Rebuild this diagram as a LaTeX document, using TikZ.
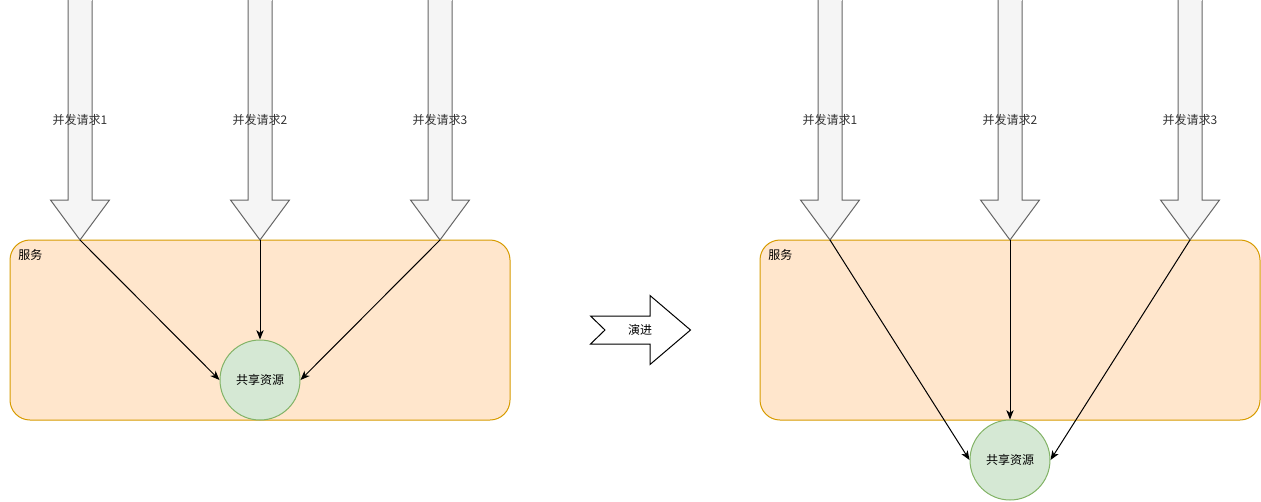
\documentclass[tikz,border=0pt]{standalone}
\usepackage{fontspec}
\newfontfamily\cjk{Noto Sans CJK SC}
\usetikzlibrary{arrows.meta}
\definecolor{svcfill}{HTML}{FFE6CC}
\definecolor{svcdraw}{HTML}{D79B00}
\definecolor{resfill}{HTML}{D5E8D4}
\definecolor{resdraw}{HTML}{82B366}
\definecolor{arrfill}{HTML}{F5F5F5}
\definecolor{arrdraw}{HTML}{666666}
\definecolor{arrtext}{HTML}{333333}
\tikzset{
  svcbox/.style={draw=svcdraw, fill=svcfill, rounded corners=15pt, line width=0.75pt},
  resnode/.style={circle, draw=resdraw, fill=resfill, line width=0.75pt, minimum size=60pt, inner sep=0pt, font=\cjk\fontsize{9}{11}\selectfont},
  bigarrow/.style={draw=arrdraw, fill=arrfill, line join=miter, line width=0.75pt},
  reqlabel/.style={text=arrtext, font=\cjk\fontsize{9}{11}\selectfont, inner sep=1pt},
  conn/.style={draw=black, line width=0.75pt, -{Stealth[length=7pt,width=5.5pt,inset=2pt]}},
  txt/.style={font=\cjk\fontsize{9}{11}\selectfont, inner sep=0pt}
}
\begin{document}
\begin{tikzpicture}[x=0.75pt,y=-0.75pt]
\useasboundingbox (0,0) rectangle (1261,501);
% service boxes
\draw[svcbox] (10,240) rectangle (510,420);
\node[txt, anchor=north west] (svcL) at (18,249) {服务};
\draw[svcbox] (760,240) rectangle (1260,420);
\node[txt, anchor=north west] (svcR) at (768,249) {服务};
% big arrows
\foreach \cx/\n/\name in {80/1/a1,260/2/a2,440/3/a3,830/1/b1,1010/2/b2,1190/3/b3}{
  \draw[bigarrow] (\cx-12,0) -- (\cx-12,200) -- (\cx-29.5,200) -- (\cx,240) -- (\cx+29.5,200) -- (\cx+12,200) -- (\cx+12,0);
  \draw[arrfill, line width=1pt] (\cx-11.5,0.5) -- (\cx+11.5,0.5);
  \node[reqlabel] (l\name) at (\cx,120) {并发请求\n};
  \coordinate (\name) at (\cx,240);
}
% resources
\node[resnode] (resL) at (260,380) {共享资源};
\node[resnode] (resR) at (1010,460) {共享资源};
% connectors
\draw[conn] (a1) -- (resL.west);
\draw[conn] (a2) -- (resL.north);
\draw[conn] (a3) -- (resL.east);
\draw[conn] (b1) -- (resR.west);
\draw[conn] (b2) -- (resR.north);
\draw[conn] (b3) -- (resR.east);
% evolution arrow
\draw[fill=white, line join=miter, line width=0.75pt] (590.5,316) -- (650,316) -- (650,295.5) -- (690.5,330) -- (650,364.5) -- (650,344) -- (590.5,344) -- (605,330) -- cycle;
\node[txt] (evo) at (640,330) {演进};
\end{tikzpicture}
\end{document}
